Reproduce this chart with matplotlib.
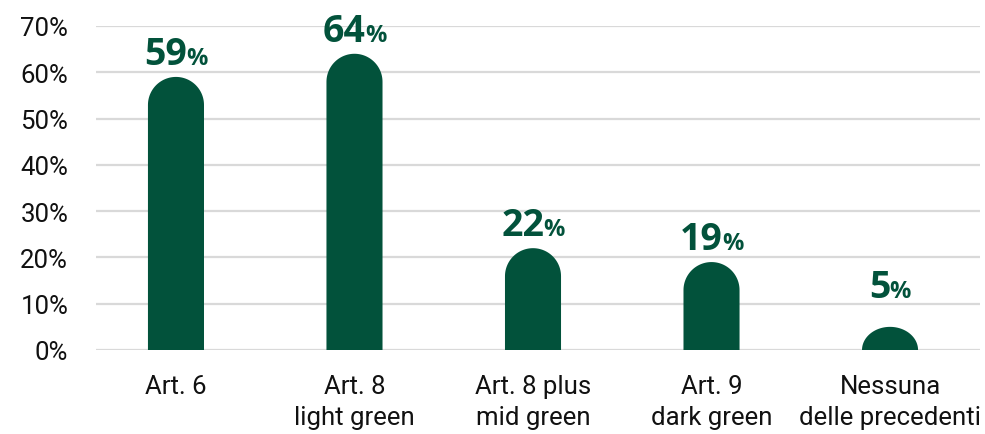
import numpy as np
import matplotlib
matplotlib.use("Agg")
import matplotlib.pyplot as plt
from matplotlib.path import Path
from matplotlib.patches import PathPatch

categories = ["Art. 6", "Art. 8\nlight green", "Art. 8 plus\nmid green",
              "Art. 9\ndark green", "Nessuna\ndelle precedenti"]
values = [59, 64, 22, 19, 5]
y_ticks = [0, 10, 20, 30, 40, 50, 60, 70]
y_tick_labels = [f"{v}%" for v in y_ticks]

GREEN = "#02523B"
GRID = "#D9D9D9"
LABEL_FONT = ["Open Sans", "DejaVu Sans"]

plt.rcParams["font.family"] = ["Roboto", "DejaVu Sans"]

fig = plt.figure(figsize=(9.85, 4.35), dpi=100)
ax = fig.add_axes([96 / 985, 1 - 351 / 435, 884 / 985, 324 / 435])
x = np.arange(len(categories))
ax.set_xlim(-0.448, 4.504)
ax.set_ylim(0, 70)

ax.set_yticks(y_ticks)
ax.set_yticklabels(y_tick_labels)
ax.yaxis.grid(True, color=GRID, linewidth=1.6)
ax.set_axisbelow(True)
ax.set_xticks(x)
ax.set_xticklabels(categories, linespacing=1.38)
ax.tick_params(axis="both", length=0, labelsize=18.5, colors="#111111")
ax.tick_params(axis="y", pad=20)
ax.tick_params(axis="x", pad=17)
for s in ax.spines.values():
    s.set_visible(False)

# bars with a rounded (semicircular) top
bar_w = 0.314
fig.canvas.draw()
renderer = fig.canvas.get_renderer()
p0 = ax.transData.transform((0, 0))
p1 = ax.transData.transform((1, 1))
sx, sy = p1[0] - p0[0], p1[1] - p0[1]
rx = bar_w / 2
ry_full = rx * sx / sy
theta = np.linspace(0, np.pi, 60)
px_to_pt = 72 / fig.dpi
gap = -0.6  # points between number and percent sign
lift = 9.5  # points above the bar top

for xi, v in zip(x, values):
    ry = min(ry_full, v)
    base = v - ry
    verts = [(xi - rx, 0), (xi + rx, 0), (xi + rx, base)]
    verts += [(xi + rx * np.cos(t), base + ry * np.sin(t)) for t in theta]
    verts += [(xi - rx, 0)]
    codes = [Path.MOVETO] + [Path.LINETO] * (len(verts) - 2) + [Path.CLOSEPOLY]
    ax.add_patch(PathPatch(Path(verts, codes), facecolor=GREEN, edgecolor="none", zorder=3))

    # value label: large number with a smaller percent sign, centred over the bar
    anchor_y = max(v, 8.7)
    num = ax.annotate(f"{v}", xy=(xi, anchor_y), xytext=(0, lift), textcoords="offset points",
                      ha="right", va="baseline", fontsize=27, fontweight="bold",
                      color=GREEN, family=LABEL_FONT, annotation_clip=False)
    pct = ax.annotate("%", xy=(xi, anchor_y), xytext=(0, lift), textcoords="offset points",
                      ha="left", va="baseline", fontsize=17, fontweight="bold",
                      color=GREEN, family=LABEL_FONT, annotation_clip=False)
    wn = num.get_window_extent(renderer).width * px_to_pt
    wp = pct.get_window_extent(renderer).width * px_to_pt
    total = wn + gap + wp
    right = -total / 2 + wn
    num.set_position((right, lift))
    pct.set_position((right + gap, lift))

fig.savefig("out.png", dpi=100)
